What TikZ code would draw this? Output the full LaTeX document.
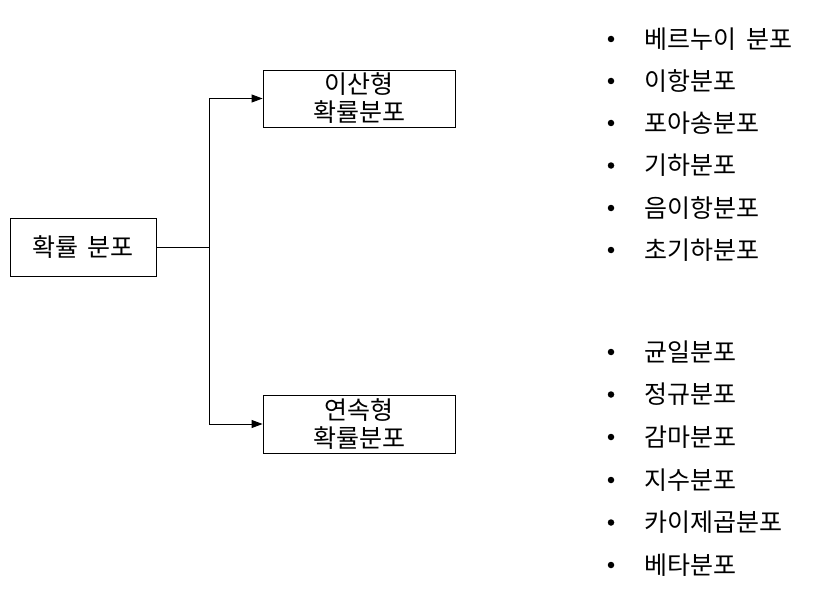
\documentclass[tikz,border=0pt]{standalone}
\usepackage{fontspec}
\setmainfont{Noto Sans CJK KR}
\usetikzlibrary{arrows.meta}
\begin{document}
\begin{tikzpicture}[x=1pt,y=-1pt,
  box/.style={draw,line width=0.9pt,inner sep=0pt,align=center,font=\fontsize{25}{28}\selectfont},
  item/.style={anchor=west,inner sep=0pt,font=\fontsize{25}{28}\selectfont},
  dot/.style={circle,fill,inner sep=0pt,minimum size=6.5pt},
  conn/.style={line width=0.9pt},
  arr/.style={conn,-{Triangle[length=11pt,width=8pt]}}]
\useasboundingbox (0,0) rectangle (824,591);
\node[box,minimum width=146pt,minimum height=58pt] (root) at (83,247) {확률\hspace{0.4em}분포};
\node[box,minimum width=192pt,minimum height=57pt] (disc) at (359,98.5) {이산형\\확률분포};
\node[box,minimum width=192pt,minimum height=58pt] (cont) at (359,424) {연속형\\확률분포};
\coordinate (j) at (209,247);
\coordinate (jt) at (209,98.5);
\coordinate (jb) at (209,424);
\draw[conn] (root.east) -- (j);
\draw[conn] (jt) -- (jb);
\draw[arr] (jt) -- (disc.west);
\draw[arr] (jb) -- (cont.west);
\foreach \t/\y/\n in {베르누이\hspace{0.4em}분포/39/a1,이항분포/81/a2,포아송분포/123/a3,기하분포/165.5/a4,음이항분포/208/a5,초기하분포/250/a6,
  균일분포/352/b1,정규분포/394.5/b2,감마분포/437/b3,지수분포/480/b4,카이제곱분포/522.5/b5,베타분포/565/b6}{
  \node[dot] (d\n) at (611,\y) {};
  \node[item] (\n) at (644,\y) {\t};
}
\end{tikzpicture}
\end{document}
